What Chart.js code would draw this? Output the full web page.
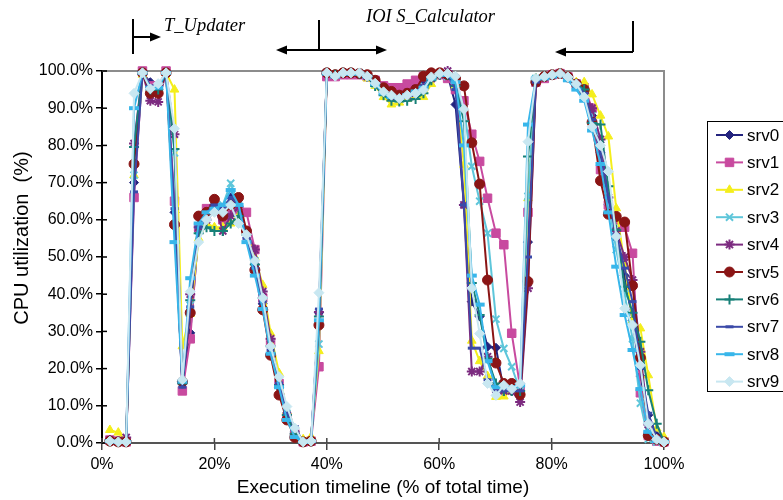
<!DOCTYPE html>
<html>
<head>
<meta charset="utf-8">
<script src="https://cdn.jsdelivr.net/npm/chart.js@4.4.1/dist/chart.umd.min.js"></script>
<style>
  html, body { margin: 0; padding: 0; background: #fff; }
</style>
</head>
<body>
<canvas id="cpuchart" width="783" height="500"></canvas>
<script>
// sample positions, % of total time
const timeline = [
  1.4, 2.9, 4.3, 5.7, 7.2, 8.6, 10.0, 11.4, 12.9, 14.3,
  15.7, 17.2, 18.6, 20.0, 21.5, 22.9, 24.3, 25.7, 27.2, 28.6,
  30.0, 31.5, 32.9, 34.3, 35.8, 37.2, 38.6, 40.0, 41.5, 42.9,
  44.3, 45.8, 47.2, 48.6, 50.1, 51.5, 52.9, 54.3, 55.8, 57.2,
  58.6, 60.1, 61.5, 62.9, 64.4, 65.8, 67.2, 68.6, 70.1, 71.5,
  72.9, 74.4, 75.8, 77.2, 78.7, 80.1, 81.5, 82.9, 84.4, 85.8,
  87.2, 88.7, 90.1, 91.5, 93.0, 94.4, 95.8, 97.2, 98.7, 100
];

// CPU utilization (%) per server
const srv0 = [0.5, 0.3, 0.3, 70, 99.5, 97, 95, 99.5, 62, 16,
  29.6, 57, 61, 64, 62, 66, 63, 56, 48, 37.4, 26, 15, 7.8, 3, 0.3, 0.5, 35,
  99, 98.8, 99.3, 99.5, 99.3, 98.5, 97, 95, 94, 94, 95, 96, 97, 98.5, 99, 99,
  91, 64, 38, 34, 25.9, 25.6, 14, 14, 14, 54, 97,
  98.5, 99, 99.3, 98.4, 96.5, 95, 88, 78, 64, 55, 45, 33, 18, 7.5, 2, 0.3];
const srv1 = [0.8, 0.5, 0.3, 66, 100, 96, 96, 100, 65, 14,
  28, 58, 63, 63, 60, 62, 62, 62, 52, 39, 27, 16, 7, 2.5, 0.3, 0.5, 20.5,
  98.5, 98.5, 99, 99, 99, 98.5, 97.5, 96, 95.5, 95.5, 96.5, 97.5, 98.5, 99, 99, 98,
  95, 92, 83, 75.7, 65.8, 56.4, 53.3, 29.5, 15, 62, 97,
  98, 99, 99.3, 98.4, 96.5, 95.5, 90, 73.5, 64, 60, 58, 51, 13.5, 2, 0.5, 0.3];
const srv2 = [3.5, 2.8, 0.5, 72, 99, 95, 95, 99.5, 95, 26,
  34.7, 55, 59, 58, 58, 59, 61, 57, 50, 42.5, 29.5, 18.8, 8.5, 3, 1, 1.7, 24.7,
  99.5, 99, 99.5, 99.5, 99.3, 98, 96, 93, 91, 91.5, 92.5, 93, 93, 96.5, 99, 99,
  96, 74.8, 27.5, 22, 18, 12.4, 12.5, 14, 14, 65.8, 98,
  98.5, 99, 99.3, 98.4, 97, 97, 93.7, 88, 82.4, 63.1, 48, 33, 30.8, 18.2, 3.9, 1.6];
const srv3 = [0.5, 0.3, 0.3, 72, 99.5, 94, 95, 99.5, 78, 16,
  37, 57, 61, 63, 64, 69.8, 64, 56, 49, 40, 27, 17, 8, 2.5, 0.3, 0.5, 26.6,
  99.5, 99, 99.5, 99.5, 99.5, 98.5, 96.5, 94.5, 93.5, 93, 93.5, 94.5, 96, 98.5, 99, 98.5,
  96, 90, 74.4, 65, 56.4, 33.3, 25.4, 20.5, 14, 66.3, 98,
  98.5, 99, 99.3, 98.4, 96.5, 94, 88, 80, 65, 52, 40, 28, 10.7, 1, 0.3, 0.3];
const srv4 = [0.8, 0.5, 1.5, 80.5, 99.5, 92, 91.7, 99.5, 83, 16.5,
  40, 58, 60, 64, 57, 61, 63.5, 57, 52, 40.7, 28, 15.6, 7.5, 2.5, 0.3, 0.5, 35.2,
  99.5, 99, 99.5, 99.5, 99.3, 98.5, 97, 94.5, 93, 93, 93.5, 94, 95.5, 98, 99, 100,
  98, 64, 19.2, 19.2, 23.2, 14.5, 14, 14, 11, 41.6, 97,
  98.5, 99, 99.3, 98.4, 96.5, 94, 90, 81.6, 66, 57, 50, 43.8, 24.5, 5, 1, 0.3];
const srv5 = [0.5, 0.3, 0.3, 75, 99.5, 94, 94, 99.5, 58.7, 16.5,
  35, 61, 62, 65.5, 61, 64, 66, 57, 46.5, 35.8, 23.6, 12.9, 6.2, 1.5, 0.3, 0.5, 31.7,
  99.5, 99, 99.5, 99.5, 99.3, 99, 97.5, 95.5, 94.5, 93.5, 94, 95, 98.6, 99.5, 99.5, 99,
  98, 96, 80.7, 69.6, 43.8, 21.5, 16, 16, 13, 43.4, 97,
  98.5, 99, 99.3, 98.4, 96.5, 95, 86.2, 70.5, 61.5, 60.9, 59.4, 42.3, 22.9, 2, 1, 0.3];
const srv6 = [0.5, 0.3, 0.3, 79.6, 99.5, 95, 95, 99.5, 79, 16,
  38.4, 56.4, 58, 57, 57, 59, 61, 56, 48, 39, 26, 15.5, 7.5, 2.5, 0.3, 0.5, 34,
  99.5, 99, 99.5, 99.5, 99.3, 98.5, 96, 93.5, 92, 91.8, 92, 92.5, 94, 97.5, 99, 99,
  96, 86.5, 43, 34.4, 22.7, 16, 14, 14, 14, 77, 98,
  98.5, 99, 99.3, 98.4, 96.5, 95, 86, 85.6, 69, 57.3, 42, 35, 27.2, 14.2, 5.2, 0.3];
const srv7 = [0.5, 0.3, 0.3, 67.5, 99.5, 96, 95.5, 99.5, 63, 15,
  36.6, 58, 62, 64, 63, 66, 64, 55, 47, 38, 25, 16, 8, 4.4, 0.3, 0.5, 36,
  99.3, 98.8, 99.3, 99.3, 99.3, 98.5, 96.5, 94, 93.5, 93, 93.5, 94.5, 96, 98, 99, 99,
  95, 64, 25.5, 25.5, 17, 14, 14, 14, 14, 50, 97,
  98.5, 99, 99.3, 98.4, 96.5, 94, 87, 78, 66, 56, 47, 38, 20, 8, 1.5, 0.3];
const srv8 = [0.5, 0.3, 0.3, 90, 99.5, 95.5, 95.5, 99.5, 54, 16.5,
  44.3, 59, 62, 63, 64, 68, 64, 54, 45, 36, 24, 15, 6.2, 1.6, 0.3, 0.5, 33,
  99.3, 98.5, 99.3, 99.3, 99.3, 98.5, 96.5, 94, 93, 92.8, 93.5, 94.5, 95.5, 98, 99, 99,
  97, 80, 45, 37.2, 22, 15, 15, 15, 15.5, 85.6, 98,
  98, 98.5, 99, 97.5, 95, 92, 84, 75, 62, 47.4, 34.4, 25, 14.5, 3, 0.5, 0.3];
const srv9 = [0.5, 0.3, 0.3, 94, 99.5, 95.2, 96.6, 99.5, 84.5, 17,
  40.7, 54, 60, 62, 62, 64, 59, 56, 49, 39, 26, 17.8, 9.8, 4, 0.3, 0.5, 40.4,
  99.5, 98.6, 99.5, 99.5, 99.5, 98.6, 96.7, 94.4, 93.5, 92.6, 93.5, 94, 94.9, 98.4, 99.3, 99.3,
  98.6, 89.7, 41.6, 29.4, 16, 12.8, 15.5, 14.5, 16, 81, 98,
  98.5, 99, 99.3, 98.4, 96.5, 93, 85, 80, 73, 55.5, 36.2, 31.7, 20.9, 5.2, 1, 0.3];

const servers = ["srv0", "srv1", "srv2", "srv3", "srv4", "srv5", "srv6", "srv7", "srv8", "srv9"];
const usage = [srv0, srv1, srv2, srv3, srv4, srv5, srv6, srv7, srv8, srv9];

const styles = [
  { color: "#23237e", point: "rectRot", r: 4.5, bw: 1 },
  { color: "#c84a9f", point: "rect", r: 6, bw: 1 },
  { color: "#f4ee1c", point: "triangle", r: 5, bw: 1 },
  { color: "#5ec6da", point: "crossRot", r: 5, bw: 2 },
  { color: "#7c2b80", point: "star", r: 5, bw: 2 },
  { color: "#8a1515", point: "circle", r: 5, bw: 1 },
  { color: "#178078", point: "cross", r: 5, bw: 2 },
  { color: "#3b4aa8", point: "line", r: 4, bw: 3 },
  { color: "#38b6ea", point: "line", r: 5, bw: 4 },
  { color: "#c8e7f1", point: "rectRot", r: 5, bw: 1 }
];

const datasets = servers.map((name, k) => ({
  label: name,
  data: usage[k].map((v, i) => ({ x: timeline[i], y: v })),
  borderColor: styles[k].color,
  backgroundColor: styles[k].color,
  borderWidth: 2,
  pointStyle: styles[k].point,
  pointRadius: styles[k].r,
  pointBorderWidth: styles[k].bw,
  pointBackgroundColor: styles[k].color,
  pointBorderColor: styles[k].color,
  tension: 0,
  clip: false,
  order: 10 - k
}));

function arrowHead(ctx, x, y, dir) {
  ctx.beginPath();
  ctx.moveTo(x, y);
  ctx.lineTo(x - dir * 11, y - 4.5);
  ctx.lineTo(x - dir * 11, y + 4.5);
  ctx.closePath();
  ctx.fill();
}

function seg(ctx, x1, y1, x2, y2) {
  ctx.beginPath();
  ctx.moveTo(x1, y1);
  ctx.lineTo(x2, y2);
  ctx.stroke();
}

const frame = {
  id: "frame",
  beforeDatasetsDraw(chart) {
    const ctx = chart.ctx;
    const a = chart.chartArea;
    const xs = chart.scales.x, ys = chart.scales.y;
    ctx.save();
    // grey plot border top and right
    ctx.strokeStyle = "#8c8c8c";
    ctx.lineWidth = 2;
    ctx.beginPath();
    ctx.moveTo(a.left, a.top);
    ctx.lineTo(a.right, a.top);
    ctx.lineTo(a.right, a.bottom);
    ctx.stroke();
    // inner half of the tick marks
    ctx.lineWidth = 1.5;
    ctx.strokeStyle = "#000";
    ys.ticks.forEach(t => {
      const y = ys.getPixelForValue(t.value);
      seg(ctx, a.left, y, a.left + 5, y);
    });
    ctx.strokeStyle = "#444";
    xs.ticks.forEach(t => {
      const x = xs.getPixelForValue(t.value);
      seg(ctx, x, a.bottom, x, a.bottom - 5);
    });
    ctx.restore();
  },
  afterDraw(chart) {
    const ctx = chart.ctx;
    ctx.save();

    // y axis title
    ctx.fillStyle = "#000";
    ctx.font = "20px 'Liberation Sans', Arial, sans-serif";
    ctx.textAlign = "center";
    ctx.textBaseline = "middle";
    ctx.translate(22, 238);
    ctx.rotate(-Math.PI / 2);
    ctx.fillText("CPU utilization  (%)", 0, 0);
    ctx.setTransform(1, 0, 0, 1, 0, 0);

    // legend box
    ctx.strokeStyle = "#000";
    ctx.lineWidth = 1;
    ctx.strokeRect(707.5, 121.5, 120, 270);
    chart.data.datasets.forEach((ds, k) => {
      const y = 135 + 27.4 * k;
      ctx.strokeStyle = ds.borderColor;
      ctx.lineWidth = 2;
      seg(ctx, 716, y, 743, y);
      ctx.fillStyle = ds.pointBackgroundColor;
      ctx.strokeStyle = ds.pointBorderColor;
      ctx.lineWidth = ds.pointBorderWidth;
      Chart.helpers.drawPoint(ctx, {
        pointStyle: ds.pointStyle,
        radius: ds.pointRadius,
        borderWidth: ds.pointBorderWidth,
        rotation: 0
      }, 729.5, y);
      ctx.fillStyle = "#000";
      ctx.font = "17px 'Liberation Sans', Arial, sans-serif";
      ctx.textAlign = "left";
      ctx.textBaseline = "middle";
      ctx.fillText(ds.label, 747, y + 1);
    });

    // phase annotations
    ctx.strokeStyle = "#000";
    ctx.fillStyle = "#000";
    ctx.lineWidth = 2;
    seg(ctx, 133, 19, 133, 54);
    seg(ctx, 133, 37, 152, 37);
    arrowHead(ctx, 161, 37, 1);

    seg(ctx, 319, 20, 319, 50);
    seg(ctx, 285, 50, 378, 50);
    arrowHead(ctx, 276, 50, -1);
    arrowHead(ctx, 387, 50, 1);

    seg(ctx, 633, 21, 633, 52);
    seg(ctx, 633, 52, 564, 52);
    arrowHead(ctx, 555, 52, -1);

    ctx.font = "italic 18.5px 'Liberation Serif', 'Times New Roman', serif";
    ctx.textAlign = "left";
    ctx.textBaseline = "alphabetic";
    ctx.fillText("T_Updater", 164, 31);
    ctx.fillText("IOI S_Calculator", 366, 22);

    ctx.restore();
  }
};

new Chart(document.getElementById("cpuchart"), {
  type: "line",
  data: { datasets: datasets },
  options: {
    responsive: false,
    animation: false,
    layout: { padding: { top: 71, right: 119, left: 0, bottom: 0 } },
    plugins: {
      legend: { display: false },
      tooltip: { enabled: false }
    },
    scales: {
      x: {
        type: "linear",
        min: 0,
        max: 100,
        ticks: {
          stepSize: 20,
          color: "#000",
          padding: 5,
          font: { family: "'Liberation Sans', Arial, sans-serif", size: 16 },
          callback: v => v + "%"
        },
        grid: { drawOnChartArea: false, tickLength: 7, color: "#444", lineWidth: 1.5 },
        border: { color: "#555", width: 2 },
        title: {
          display: true,
          text: "Execution timeline (% of total time)",
          color: "#000",
          font: { family: "'Liberation Sans', Arial, sans-serif", size: 19 },
          padding: { top: 0, bottom: 1 }
        },
        afterFit: scale => { scale.height = 57; }
      },
      y: {
        min: 0,
        max: 100,
        ticks: {
          stepSize: 10,
          color: "#000",
          padding: 3,
          font: { family: "'Liberation Sans', Arial, sans-serif", size: 16 },
          callback: v => v.toFixed(1) + "%"
        },
        grid: { drawOnChartArea: false, tickLength: 6, color: "#000", lineWidth: 1.5 },
        border: { color: "#000", width: 2 },
        afterFit: scale => { scale.width = 102; }
      }
    }
  },
  plugins: [frame]
});
</script>
</body>
</html>
